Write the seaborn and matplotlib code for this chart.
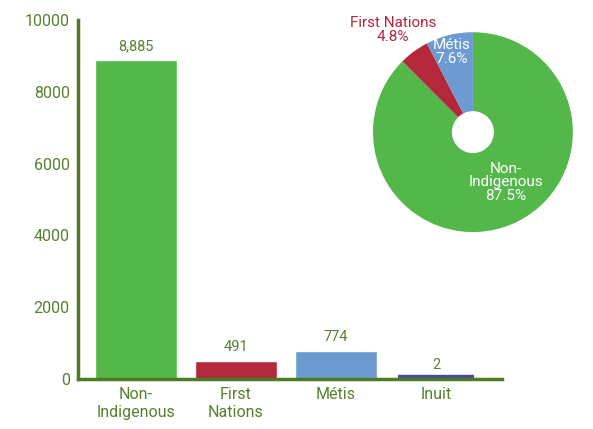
import pandas as pd
import seaborn as sns
import matplotlib.pyplot as plt

# Data
groups = ['Non-Indigenous', 'First Nations', 'Métis', 'Inuit']
tick_labels = ['Non-\nIndigenous', 'First\nNations', 'Métis', 'Inuit']
counts = [8885, 491, 774, 2]
colors = ['#53b74a', '#b3283b', '#6b9bd1', '#4848a0']

# pie order (clockwise from top)
pie_groups = ['Non-Indigenous', 'Inuit', 'First Nations', 'Métis']

text_col = '#57802f'
axis_col = '#4f7a25'

sns.set_style('white')
plt.rcParams['font.family'] = ['Roboto', 'DejaVu Sans']

df = pd.DataFrame({'group': groups, 'count': counts})
palette = dict(zip(groups, colors))

fig = plt.figure(figsize=(5.93, 4.29), dpi=100)
ax = fig.add_axes([0.1315, 0.1166, 0.715, 0.8364])

sns.barplot(data=df, x='group', y='count', hue='group', palette=palette,
            width=0.82, saturation=1, legend=False, ax=ax)

# the tiny Inuit bar gets a thick outline so it stays visible above the axis line
# (the part below y=0 is clipped by the axes)
inuit = ax.patches[3]
inuit.set_x(inuit.get_x() + 0.028)
inuit.set_width(inuit.get_width() - 0.056)
inuit.set_edgecolor(colors[3])
inuit.set_linewidth(6)
inuit.set_zorder(0.5)

for p, v in zip(ax.patches, counts):
    ax.annotate(f'{v:,}', (p.get_x() + p.get_width() / 2, p.get_height()),
                xytext=(0, 5), textcoords='offset points', ha='center', va='bottom',
                fontsize=10.5, color=text_col)

ax.set_ylim(0, 10000)
ax.set_xlim(-0.58, 3.66)
ax.set_yticks([0, 2000, 4000, 6000, 8000, 10000])
ax.set_xticks(range(4))
ax.set_xticklabels(tick_labels)
ax.set_xlabel('')
ax.set_ylabel('')
for s in ['top', 'right']:
    ax.spines[s].set_visible(False)
for s in ['left', 'bottom']:
    ax.spines[s].set_color(axis_col)
    ax.spines[s].set_linewidth(2.5)
    ax.spines[s].set_zorder(3)
ax.tick_params(axis='y', direction='in', length=7, width=2.5, color=axis_col,
               labelcolor=text_col, labelsize=11.5, pad=6)
ax.tick_params(axis='x', length=0, labelcolor=text_col, labelsize=11.5, pad=6)

# donut inset
pax = fig.add_axes([0.629, 0.459, 0.337, 0.466])
pie_vals = [counts[groups.index(g)] for g in pie_groups]
pie_cols = [palette[g] for g in pie_groups]
pax.pie(pie_vals, colors=pie_cols, startangle=90, counterclock=False,
        wedgeprops=dict(width=0.79, linewidth=0))
pax.set_xlim(-1, 1)
pax.set_ylim(-1, 1)
pax.set_aspect('equal')

total = sum(counts)
pct = {g: 100 * counts[groups.index(g)] / total for g in groups}
pax.text(-0.8, 1.02, f'First Nations\n{pct["First Nations"]:.1f}%', ha='center', va='center',
         fontsize=11, color=colors[1], linespacing=0.95, clip_on=False)
pax.text(-0.21, 0.8, f'Métis\n{pct["Métis"]:.1f}%', ha='center', va='center',
         fontsize=11, color='white', linespacing=0.95)
pax.text(0.33, -0.5, f'Non-\nIndigenous\n{pct["Non-Indigenous"]:.1f}%', ha='center', va='center',
         fontsize=11, color='white', linespacing=0.95)

fig.savefig('out.png', dpi=100)
